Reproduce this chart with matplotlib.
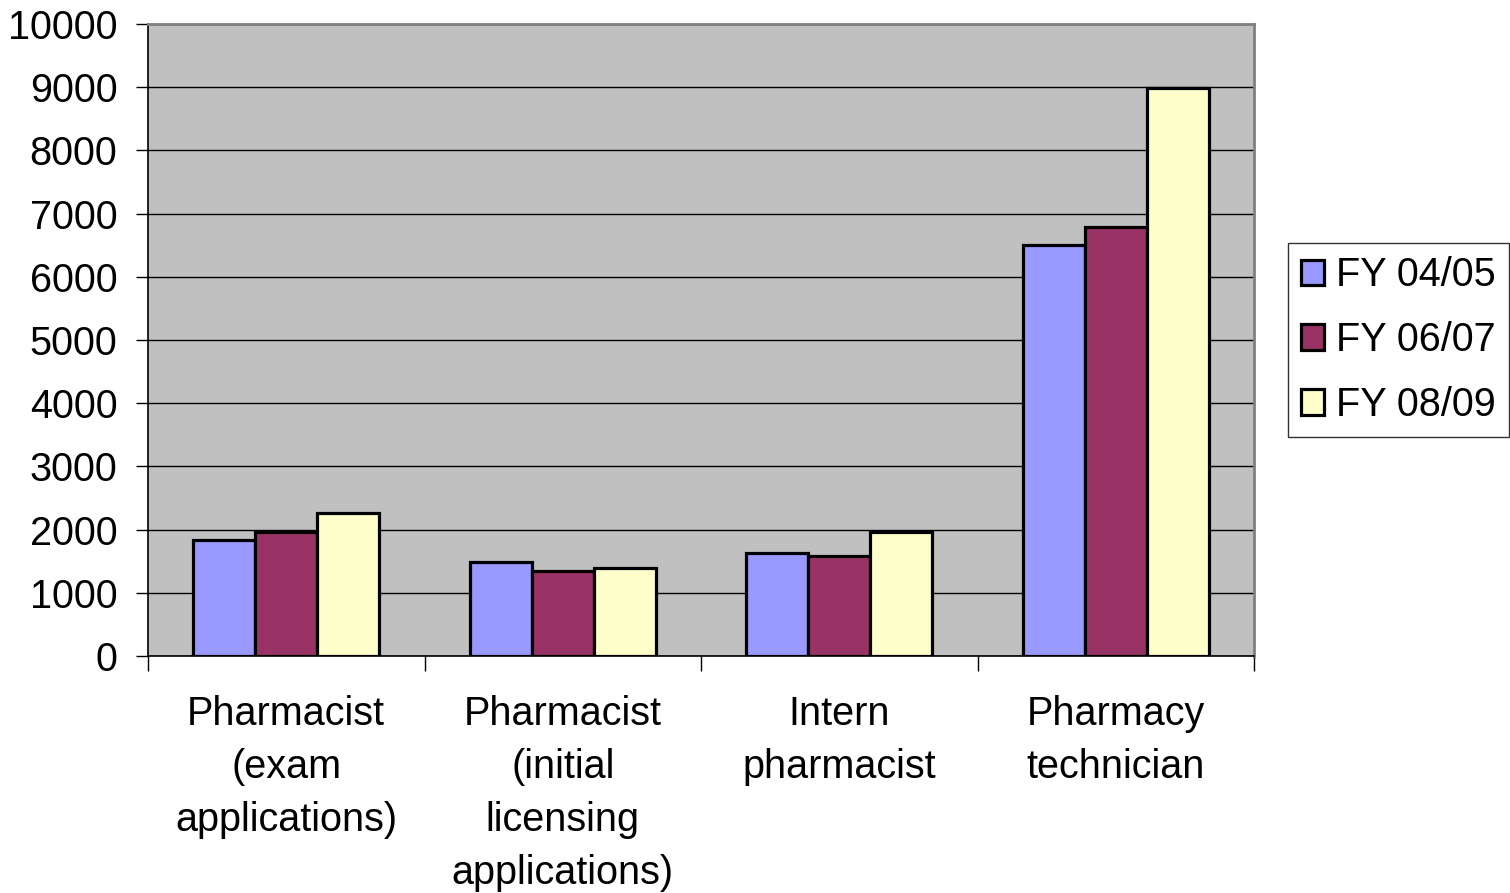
import matplotlib
matplotlib.use("Agg")
import matplotlib.pyplot as plt
import numpy as np

plt.rcParams['font.family'] = ['Liberation Sans', 'DejaVu Sans']

# Data
categories = ['Pharmacist\n(exam\napplications)',
              'Pharmacist\n(initial\nlicensing\napplications)',
              'Intern\npharmacist',
              'Pharmacy\ntechnician']
series_names = ['FY 04/05', 'FY 06/07', 'FY 08/09']
fy0405 = [1830, 1485, 1635, 6500]
fy0607 = [1960, 1345, 1580, 6790]
fy0809 = [2260, 1385, 1960, 8990]
colors = ['#9999FF', '#993366', '#FFFFCC']

fig = plt.figure(figsize=(15.1, 8.93), dpi=100)
ax = fig.add_axes([148 / 1510, 1 - 656 / 893, (1254 - 148) / 1510, (656 - 24) / 893])
ax.set_facecolor('#C0C0C0')

x = np.arange(len(categories))
width = 0.224
for i, (vals, name) in enumerate(zip([fy0405, fy0607, fy0809], series_names)):
    ax.bar(x + (i - 1) * width, vals, width, color=colors[i], edgecolor='black',
           linewidth=2.3, label=name, zorder=3)

ax.set_xlim(-0.5, 3.5)
ax.set_ylim(0, 10000)
ax.set_yticks(np.arange(0, 10001, 1000))
ax.yaxis.grid(True, color='black', linewidth=1.0, zorder=1)
ax.set_axisbelow(True)

# category boundaries as major ticks, labels at centres as minor ticks
ax.set_xticks(np.arange(-0.5, 4.0, 1.0))
ax.set_xticklabels([])
ax.set_xticks(x, minor=True)
ax.set_xticklabels(categories, minor=True, fontsize=28.5, linespacing=1.5, va='top')
ax.tick_params(axis='x', which='major', direction='out', length=11, width=1, color='black')
ax.tick_params(axis='x', which='minor', length=0, pad=28)
ax.tick_params(axis='y', direction='out', length=9, width=1, labelsize=28.5, pad=13)

for s in ['left', 'bottom']:
    ax.spines[s].set_color('black')
    ax.spines[s].set_linewidth(1.2)
for s in ['top', 'right']:
    ax.spines[s].set_color('#808080')
    ax.spines[s].set_linewidth(2)

leg = ax.legend(loc='center left', bbox_to_anchor=(1288 / 1510, 1 - 340 / 893),
                bbox_transform=fig.transFigure, fontsize=28.5, frameon=True,
                fancybox=False, edgecolor='black', handlelength=0.6, handleheight=0.6,
                handletextpad=0.3, labelspacing=0.68, borderpad=0.32, borderaxespad=0)
leg.get_frame().set_linewidth(1.0)

fig.savefig('out.png', dpi=100)
